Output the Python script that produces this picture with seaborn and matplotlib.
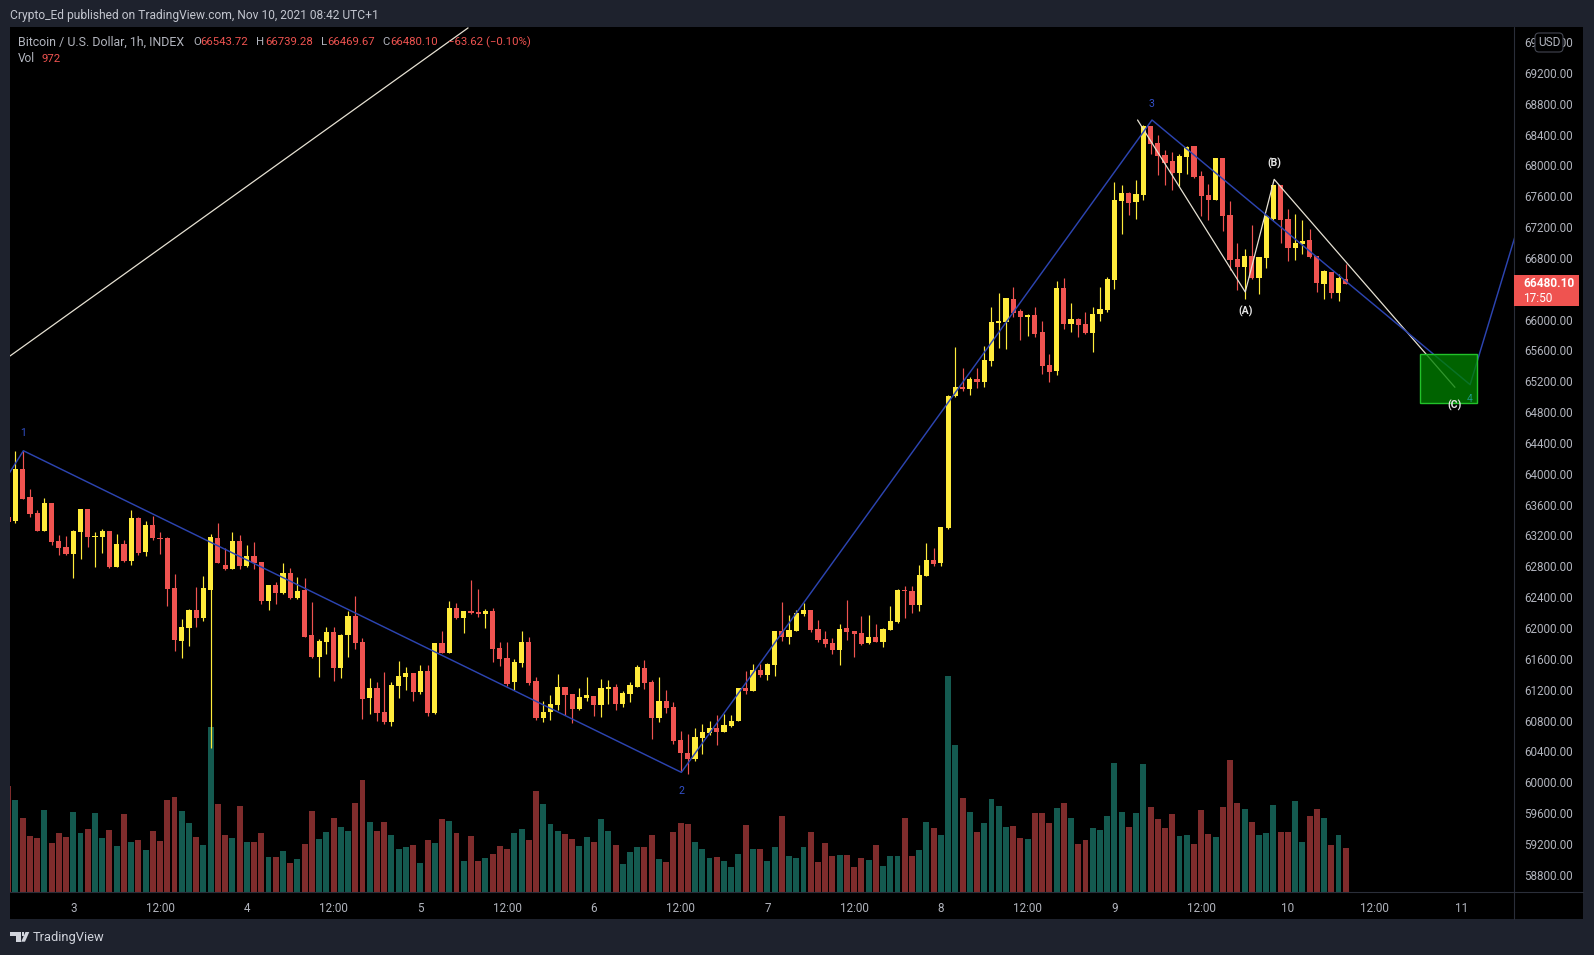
import numpy as np
import pandas as pd
import matplotlib
matplotlib.use("Agg")
import matplotlib.pyplot as plt
from matplotlib.patches import Rectangle, Polygon, FancyBboxPatch
from matplotlib.transforms import ScaledTranslation, IdentityTransform
import seaborn as sns

first_hour = -9  # hours relative to Nov 3 00:00
opens = [63448,63400,64070,63707,63504,63275,63629,63141,63063,
62972,63262,63556,63193,63193,63270,62804,63102,62881,63439,
62998,63348,63180,63180,62531,61844,62012,62246,62142,62505,
63180,62829,62778,63141,62817,62946,62864,62363,62570,62466,
62721,62402,62505,61922,61636,61831,61961,61494,61922,62168,
61831,61105,61235,60923,60794,61261,61377,61429,61183,61455,
60910,61818,61689,62272,62142,62233,62220,62194,62233,61753,
61624,61312,61559,61831,61325,60846,60923,61014,61248,61157,
60962,61105,61131,61014,61222,61248,61027,61157,61248,61494,
61312,60846,61066,60988,60560,60392,60314,60586,60651,60716,
60664,60742,60807,61235,61196,61468,61403,61533,61974,61896,
61974,62195,62246,62000,61870,61818,61728,62013,61974,61948,
61818,61896,61831,61987,62091,62506,62493,62311,62687,62895,
62856,63310,65022,65139,65113,65243,65204,65476,65969,65982,
66280,66125,66047,66073,65853,65425,65347,66423,65956,66021,
65956,65840,66086,66138,66527,67551,67655,67538,67629,68524,
68304,68148,68070,67915,68122,68265,67876,67629,67564,68109,
67370,66799,66695,66838,66553,66812,67314,67759,67318,66942,
66990,67046,66838,66475,66631,66358,66543.72]
highs = [63448,64308,64308,63811,63543,63694,63629,63214,63206,
63283,63556,63556,63257,63296,63270,63232,63149,63543,63448,
63396,63465,63257,63193,62713,62129,62259,62544,62687,63232,
63374,63046,63257,63214,63089,63128,62864,62570,62605,62851,
62786,62674,62661,62350,61870,62025,62025,61935,62233,62427,
61883,61364,61312,61442,61312,61585,61507,61429,61533,61533,
61818,61974,62363,62337,62233,62635,62519,62259,62268,61831,
61831,61611,61974,61896,61377,61066,61144,61416,61248,61157,
61235,61377,61131,61351,61338,61286,61196,61312,61533,61598,
61338,61377,61209,61053,60677,60638,60716,60768,60807,60885,
60898,60885,61235,61455,61546,61546,61559,61974,62350,62182,
62246,62337,62246,62117,61974,61883,62065,62376,61974,62169,
62182,62065,62013,62298,62519,62558,62558,62830,63115,63050,
63323,65030,65658,65386,65269,65386,65671,66177,66358,66293,
66436,66151,66086,66177,65995,65567,66514,66553,66229,66034,
66112,66177,66440,66566,67798,67759,67668,67824,68537,68524,
68407,68213,68187,68161,68265,68265,67941,67772,68109,68109,
67551,67007,66929,67240,66825,67357,67759,67759,67448,67383,
67305,67188,66838,66657,66631,66605,66739.28]
lows = [63391,63379,63681,63456,63275,63275,63093,62959,62963,
62661,62907,63067,62804,62981,62791,62804,62868,62829,62959,
62946,63154,62972,62298,61714,61623,61779,62025,62108,60452,
62855,62765,62778,62778,62804,62778,62324,62246,62324,62453,
62389,62389,61896,61623,61377,61675,61325,61364,61636,61740,
60833,60897,60807,60768,60742,61105,61209,61066,61157,60876,
60897,61689,61689,62129,61948,62194,62155,62013,61572,61520,
61261,61209,61507,61273,60820,60794,60820,60949,60884,60785,
60949,61066,60871,60858,61027,60949,60988,61053,61248,61222,
60573,60794,60910,60508,60158,60119,60288,60379,60625,60496,
60664,60729,60807,61157,61196,61377,61339,61390,61844,61805,
61974,62169,61961,61831,61767,61676,61533,61857,61637,61792,
61805,61831,61767,61987,62078,62143,62208,62233,62687,62817,
62817,63300,65010,65087,65035,65126,65139,65412,65645,65632,
66047,65749,65801,65788,65308,65204,65295,65891,65853,65788,
65827,65593,65995,66112,66410,67123,67370,67318,67564,68161,
67889,67759,67694,67746,67902,67850,67357,67305,67564,67162,
66657,66397,66280,66540,66345,66682,67305,67007,66773,66786,
66864,66812,66371,66280,66293,66254,66469.67]
closes = [63391,64070,63690,63495,63275,63629,63132,63050,62972,
63270,63556,63197,63201,63270,62804,63102,62881,63439,62981,
63348,63175,63171,62518,61857,62025,62246,62142,62531,63193,
62855,62778,63141,62817,62946,62855,62363,62570,62466,62721,
62402,62492,61896,61636,61844,61961,61494,61922,62168,61818,
61092,61235,60910,60794,61273,61390,61429,61183,61455,60910,
61818,61689,62272,62142,62233,62207,62194,62233,61740,61611,
61286,61572,61831,61299,60846,60923,61027,61248,61144,60962,
61118,61144,61014,61235,61248,61027,61170,61273,61507,61299,
60846,61066,60975,60547,60392,60314,60599,60664,60716,60664,
60755,60807,61235,61196,61468,61403,61546,61974,61896,61987,
62208,62246,61987,61857,61805,61728,62000,61961,61935,61805,
61896,61831,62000,62104,62506,62497,62311,62700,62895,62843,
63323,65022,65139,65113,65243,65204,65489,65982,65995,66293,
66099,66047,66073,65827,65412,65334,66423,65956,66021,65943,
65840,66086,66151,66540,67564,67655,67526,67642,68524,68291,
68135,68040,67910,68135,68252,67863,67616,67564,68109,67357,
66786,66695,66838,66553,66825,67357,67759,67305,66942,67007,
67033,66821,66488,66644,66358,66553,66480.10]
volumes = [1882,1628,1310,991,956,1451,867,1044,974,
1416,1044,1115,1398,956,1097,814,1381,885,920,
743,1080,903,1628,1682,1434,1221,974,832,2920,
1558,1009,956,1522,885,885,1044,620,620,726,
513,584,850,1434,938,1062,1310,1151,1080,1575,
1982,1239,1080,1239,1009,761,797,832,513,920,
867,1292,1257,1044,549,991,549,602,673,814,
761,1044,1115,920,1788,1558,1204,1080,1027,938,
814,974,885,1292,1080,832,496,708,797,797,
1009,584,531,1062,1221,1204,885,761,602,620,
549,443,673,1186,761,761,549,797,1345,637,
602,797,1062,531,867,637,655,655,443,602,
566,832,460,637,637,1310,637,743,1239,1133,
1009,3829,2608,1670,1422,1068,1227,1652,1528,1156,
1174,962,944,1404,1404,1227,1493,1581,1316,856,
926,1139,1103,1351,2289,1422,1156,1404,2272,1510,
1298,1139,1387,997,1015,856,1457,1033,979,1510,
2342,1581,1475,1245,1015,1050,1546,1068,1068,1617,
891,1351,1475,1316,838,1015,779]

wave_hours = [-9.0, -6.9, 84.1, 149.2, 193.2, 199.6]
wave_prices = [64000, 64312, 60141, 68602, 65169, 67150]
corr_hours = [147.2, 162.1, 166.1, 191.1]
corr_prices = [68602, 66371, 67832, 65135]
trend_hours = [-8.76, 54.6]
trend_prices = [65541, 69796]
zone_hours = [186.2, 194.2]
zone_prices = [64927, 65563]
price_ticks = list(range(58800, 69601, 400))
hidden_tick = 66400  # sits behind the last-price tag
time_ticks = list(range(0, 193, 12))
day_labels = ["3","12:00","4","12:00","5","12:00","6","12:00","7","12:00","8","12:00","9","12:00","10","12:00","11"]

W, H = 1594, 955
BG, PANEL = "#1e222d", "#000000"
UP, DOWN = "#ffeb3b", "#ef5350"
VUP, VDOWN = "#145a50", "#7f2c2c"
GREY, BLUE, CREAM = "#b2b5be", "#2c44b0", "#e6e1d3"
LABEL_BLUE = "#3350c8"
AXLINE = "#2a2e39"

sns.set_theme(style="dark")
plt.rcParams["font.family"] = ["Roboto", "DejaVu Sans"]

fx = lambda x: x / W
fy = lambda y: 1 - y / H

fig = plt.figure(figsize=(W / 100, H / 100), dpi=100, facecolor=BG)
fig.patches.append(Rectangle((fx(10), fy(919)), fx(1573), (919 - 27) / H, transform=fig.transFigure,
                             facecolor=PANEL, edgecolor="none", zorder=-5))

df = pd.DataFrame({"hour": np.arange(first_hour, first_hour + len(opens)),
                   "open": opens, "high": highs, "low": lows, "close": closes,
                   "volume": np.array(volumes) * 972 / volumes[-1]})
df["dir"] = np.where(df["close"] >= df["open"], "up", "down")

rect = [fx(10), fy(892), (1514 - 10) / W, (892 - 27) / H]
ax_vol = fig.add_axes(rect, facecolor=PANEL)
sns.barplot(data=df, x="hour", y="volume", hue="dir", hue_order=["up", "down"],
            palette={"up": VUP, "down": VDOWN}, native_scale=True, dodge=False,
            width=0.82, saturation=1, linewidth=0, legend=False, ax=ax_vol)
ax_vol.set_ylim(0, 19108)
ax_vol.set_yticks([])
ax_vol.set_ylabel("")
ax_vol.set_xlabel("")

ax = fig.add_axes(rect, sharex=ax_vol, facecolor="none")
ax.set_zorder(ax_vol.get_zorder() + 1)
for _, sub in df.groupby("dir"):
    c = UP if sub["dir"].iloc[0] == "up" else DOWN
    ax.vlines(sub["hour"], sub["low"], sub["high"], color=c, lw=0.85, zorder=2)
    bottom = sub[["open", "close"]].min(axis=1)
    height = np.maximum((sub["close"] - sub["open"]).abs(), 14)
    ax.bar(sub["hour"], height, bottom=bottom, width=0.72, color=c, linewidth=0, zorder=3)

def path(xs, ys, color, target=ax, lw=1.05):
    sns.lineplot(x=xs, y=ys, sort=False, estimator=None, color=color, lw=lw, ax=target, zorder=4)

path(trend_hours, trend_prices, CREAM, lw=0.9)
path(corr_hours, corr_prices, CREAM, lw=0.9)
path(wave_hours, wave_prices, BLUE)
ax.add_patch(Rectangle((zone_hours[0], zone_prices[0]), zone_hours[1] - zone_hours[0],
                       zone_prices[1] - zone_prices[0], facecolor=(0, 0.5, 0, 0.78),
                       edgecolor="#22c22a", lw=1.0, zorder=5))

ax.set_xlim(-8.755, 199.27)
ax.set_ylim(58589, 69808)
ax.set_xticks(time_ticks, day_labels)
ax.set_yticks(price_ticks, ["" if p == hidden_tick else f"{p:.2f}" for p in price_ticks])
ax.yaxis.tick_right()
ax.tick_params(axis="y", length=0, pad=7.2, labelsize=8.4, labelcolor=GREY)
ax.tick_params(axis="x", length=0, pad=7.0, labelsize=8.4, labelcolor=GREY)
lift = ScaledTranslation(0, 1 / 100, fig.dpi_scale_trans)
for lbl in ax.get_yticklabels():
    lbl.set_transform(lbl.get_transform() + lift)
ax.set_xlabel("")
ax.set_ylabel("")
ax_vol.tick_params(axis="x", labelbottom=False, length=0)
for a in (ax, ax_vol):
    a.grid(False)
    for s in a.spines.values():
        s.set_visible(False)

def wave_label(h, p, s, color, weight="bold", z=6):
    ax.text(h, p, s, color=color, ha="center", va="center", fontsize=7.6, fontweight=weight, zorder=z)

wave_label(-6.9, 64542, "1", LABEL_BLUE, "normal")
wave_label(84.1, 59895, "2", LABEL_BLUE, "normal")
wave_label(149.2, 68815, "3", LABEL_BLUE, "normal")
wave_label(162.1, 66120, "(A)", "#e6e6e6")
wave_label(166.1, 68040, "(B)", "#e6e6e6")
wave_label(191.1, 64905, "(C)", "#e6e6e6")
wave_label(193.2, 64985, "4", "#1f9a82", "normal")

# panel frame lines
for (x0, y0, x1, y1) in [(10, 892, 1583, 892), (1514, 27, 1514, 919)]:
    fig.add_artist(plt.Line2D([fx(x0), fx(x1)], [fy(y0), fy(y1)], color=AXLINE, lw=0.8))

# last price tag
fig.patches.append(Rectangle((fx(1514), fy(306)), (1579 - 1514) / W, 31 / H, transform=fig.transFigure,
                             facecolor=DOWN, edgecolor="none", zorder=6))
fig.text(fx(1523.5), fy(283.5), "66480.10", color="white", fontsize=8.6, fontweight="bold", va="center", zorder=7)
fig.text(fx(1523.5), fy(298), "17:50", color="white", fontsize=8.6, va="center", zorder=7)

# USD button
fig.patches.append(FancyBboxPatch((1539, H - 48), 20, 11, boxstyle="round,pad=4,rounding_size=4",
                                  transform=IdentityTransform(), facecolor=PANEL, edgecolor="#434651",
                                  lw=0.8, zorder=6))
fig.text(fx(1549), fy(42.5), "USD", color=GREY, fontsize=8.6, ha="center", va="center", zorder=7)

# header texts
fig.text(fx(10), fy(15), "Crypto_Ed published on TradingView.com, Nov 10, 2021 08:42 UTC+1",
         color="#c3c6cf", fontsize=8.65, va="center")
fig.text(fx(18), fy(42), "Bitcoin / U.S. Dollar, 1h, INDEX", color=GREY, fontsize=8.95, va="center", zorder=7)
for x, s, c in [(193, "O", GREY), (200.7, "66543.72", DOWN),
                (256.4, "H", GREY), (265, "66739.28", DOWN), (320.7, "L", GREY), (326.8, "66469.67", DOWN),
                (382, "C", GREY), (390, "66480.10", DOWN), (448, "\u221263.62 (\u22120.10%)", DOWN)]:
    fig.text(fx(x), fy(42), s, color=c, fontsize=8.2, va="center", zorder=7)
fig.text(fx(18), fy(59), "Vol", color=GREY, fontsize=8.6, va="center", zorder=7)
fig.text(fx(41.8), fy(59), "972", color=DOWN, fontsize=8.2, va="center", zorder=7)

# brand mark
def px_poly(pts, c="#d1d4dc"):
    fig.patches.append(Polygon([(fx(x), fy(y)) for x, y in pts], closed=True, transform=fig.transFigure,
                               facecolor=c, edgecolor="none"))
px_poly([(10, 932), (21, 932), (21, 941.7), (16, 941.7), (16, 935.5), (10, 935.5)])
px_poly([(25.5, 932), (29.3, 932), (25, 941.7), (21.2, 941.7)])
px_poly([(22, 932.4), (24.4, 932.4), (24.4, 935.6), (22, 935.6)])
fig.text(fx(33), fy(937), "TradingView", color="#d1d4dc", fontsize=9.3, va="center")

fig.savefig("out.png", dpi=100, facecolor=BG)
